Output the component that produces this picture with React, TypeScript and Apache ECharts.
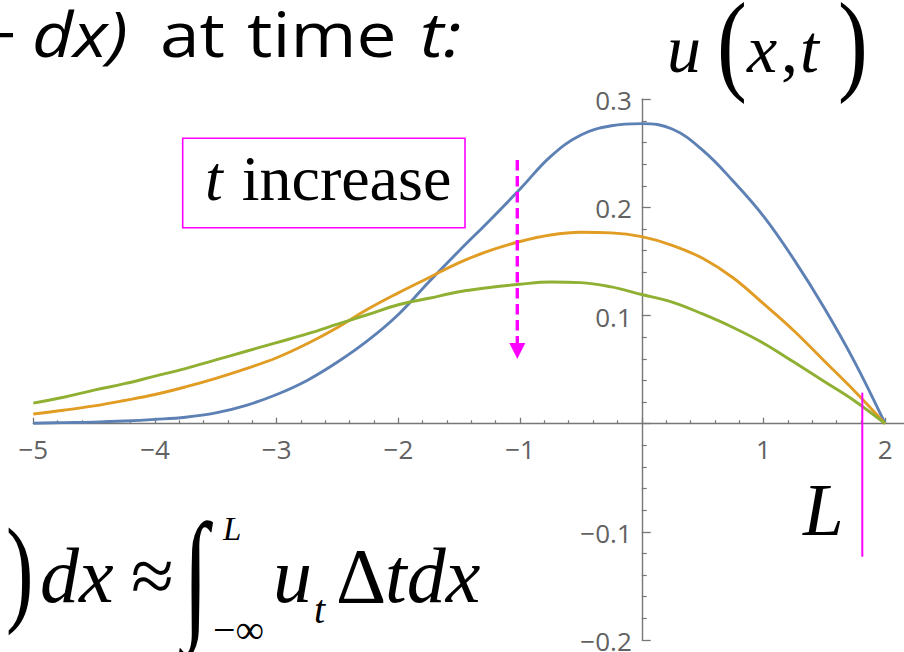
import { useEffect, useRef } from "react";
import * as echarts from "echarts";

// Sampled profiles u(x, t) at three successive times (earliest first)
const xs = [-5, -4.75, -4.5, -4.25, -4, -3.75, -3.5, -3.25, -3, -2.75, -2.5, -2.25, -2, -1.75, -1.5, -1.25, -1, -0.75, -0.5, -0.25, 0, 0.25, 0.5, 0.75, 1, 1.25, 1.5, 1.75, 2];
const uEarly = [0.0005, 0.001, 0.0015, 0.0025, 0.004, 0.006, 0.01, 0.017, 0.027, 0.04, 0.057, 0.077, 0.101, 0.131, 0.16, 0.188, 0.217, 0.247, 0.267, 0.2755, 0.2775, 0.2725, 0.253, 0.2245, 0.192, 0.152, 0.107, 0.057, 0];
const uMid = [0.009, 0.0125, 0.0165, 0.0215, 0.027, 0.034, 0.042, 0.051, 0.061, 0.074, 0.089, 0.106, 0.121, 0.135, 0.149, 0.16, 0.1685, 0.1745, 0.177, 0.1765, 0.173, 0.165, 0.153, 0.135, 0.111, 0.086, 0.058, 0.03, 0];
const uLate = [0.019, 0.0245, 0.031, 0.037, 0.044, 0.051, 0.059, 0.067, 0.075, 0.083, 0.092, 0.101, 0.11, 0.116, 0.122, 0.126, 0.129, 0.131, 0.1305, 0.1265, 0.1195, 0.1125, 0.1015, 0.089, 0.0745, 0.057, 0.039, 0.021, 0];

const xMajorTicks = [-5, -4, -3, -2, -1, 0, 1, 2];
const xTickLabels = [-5, -4, -3, -2, -1, 1, 2];
const yTickLabels = [-0.2, -0.1, 0.1, 0.2, 0.3];

const X_MIN = -5;
const X_MAX = 2.155;
const Y_MIN = -0.2;
const Y_MAX = 0.3;

const seriesColors = ["#5E81B5", "#E19C24", "#8FB032"];
const MAGENTA = "#FF00FF";
const AXIS_GRAY = "#777777";
const LABEL_GRAY = "#626262";

const SERIF = "'Liberation Serif', 'Times New Roman', serif";
const SANS = "'Open Sans', 'Noto Sans', sans-serif";
const TICK_FONT = 26;

const GRID = { left: 33.3, right: 0, top: 99.3, bottom: 12 };
const CHART_W = 904;
const CHART_H = 652;

// minor ticks every 0.2 between the integer ticks
const xMinorTicks: number[] = [];
for (let i = -25; i <= 10; i++) {
  if (i % 5 !== 0) xMinorTicks.push(i / 5);
}

const fmtMinus = (v: number) => {
  const r = Math.round(v * 1e6) / 1e6;
  const s = Number.isInteger(r) ? String(Math.abs(r)) : Math.abs(r).toFixed(1);
  return r < 0 ? "\u2212" + s : s;
};

// text placed by its left edge and alphabetic baseline
function label(
  text: string,
  left: number,
  baseline: number,
  size: number,
  opts: { family?: string; italic?: boolean; ratio?: number; scaleX?: number; scaleY?: number; fill?: string } = {}
) {
  const family = opts.family ?? SERIF;
  const ratio = opts.ratio ?? (family === SERIF ? 0.3375 : 0.388);
  return {
    type: "text",
    x: left,
    y: baseline - ratio * size * (opts.scaleY ?? 1),
    scaleX: opts.scaleX ?? 1,
    scaleY: opts.scaleY ?? 1,
    silent: true,
    style: {
      text,
      x: 0,
      y: 0,
      fontSize: size,
      fontFamily: family,
      fontStyle: opts.italic ? "italic" : "normal",
      fill: opts.fill ?? "#000",
      align: "left",
      verticalAlign: "middle",
      textAlign: "left",
      textVerticalAlign: "middle",
    },
  };
}

function tickText(text: string, x: number, y: number, align: "center" | "right") {
  return {
    type: "text",
    x,
    y,
    silent: true,
    style: {
      text,
      x: 0,
      y: 0,
      font: `normal normal 400 ${TICK_FONT}px ${SANS}`,
      fontSize: TICK_FONT,
      fontFamily: SANS,
      fontStyle: "normal",
      fill: LABEL_GRAY,
      align,
      verticalAlign: "middle",
      textAlign: align,
      textVerticalAlign: "middle",
    },
  };
}

export default function App() {
  const ref = useRef<HTMLDivElement>(null);

  useEffect(() => {
    if (!ref.current) return;
    const chart = echarts.init(ref.current, undefined, { renderer: "svg" });

    // the axes cross at the origin, inside the plotting area
    const gridW = CHART_W - GRID.left - GRID.right;
    const gridH = CHART_H - GRID.top - GRID.bottom;
    const yAxisShift = -((0 - X_MIN) / (X_MAX - X_MIN)) * gridW;
    const xAxisShift = -((0 - Y_MIN) / (Y_MAX - Y_MIN)) * gridH;

    const toPairs = (ys: number[]) => xs.map((x, i) => [x, ys[i]]);
    const lineSeries = [uEarly, uMid, uLate].map((ys, i) => ({
      type: "line",
      data: toPairs(ys),
      xAxisIndex: 0,
      yAxisIndex: 0,
      showSymbol: false,
      symbol: "none",
      smooth: 0.4,
      clip: false,
      lineStyle: { color: seriesColors[i], width: 2.9 },
      itemStyle: { color: seriesColors[i] },
      z: 3 + i,
    }));

    const option: any = {
      animation: false,
      backgroundColor: "#ffffff",
      grid: {
        ...GRID,
        containLabel: false,
        outerBoundsMode: "none",
      },
      xAxis: [
        {
          type: "value",
          min: X_MIN,
          max: X_MAX,
          position: "bottom",
          offset: xAxisShift,
          axisLine: { show: true, onZero: false, lineStyle: { color: AXIS_GRAY, width: 1.4 } },
          axisTick: {
            show: true,
            inside: true,
            length: 6,
            customValues: xMajorTicks,
            lineStyle: { color: AXIS_GRAY, width: 1.3 },
          },
          axisLabel: { show: false },
          splitLine: { show: false },
          minorTick: { show: false },
        },
        {
          type: "value",
          min: X_MIN,
          max: X_MAX,
          position: "bottom",
          offset: xAxisShift,
          axisLine: { show: false, onZero: false },
          axisTick: {
            show: true,
            inside: true,
            length: 3.5,
            customValues: xMinorTicks,
            lineStyle: { color: AXIS_GRAY, width: 1.2 },
          },
          axisLabel: { show: false },
          splitLine: { show: false },
        },
      ],
      yAxis: {
        type: "value",
        min: Y_MIN,
        max: Y_MAX,
        interval: 0.1,
        position: "left",
        offset: yAxisShift,
        axisLine: { show: true, onZero: false, lineStyle: { color: AXIS_GRAY, width: 1.4 } },
        axisTick: { show: true, inside: true, length: 9, lineStyle: { color: AXIS_GRAY, width: 1.3 } },
        minorTick: { show: true, splitNumber: 5, length: 5, lineStyle: { color: AXIS_GRAY, width: 1.2 } },
        axisLabel: { show: false },
        splitLine: { show: false },
        minorSplitLine: { show: false },
      },
      series: lineSeries,
    };

    chart.setOption(option);

    // tick labels positioned through the axes' own scales
    const toPx = (x: number, y: number) => chart.convertToPixel({ gridIndex: 0 }, [x, y]) as number[];
    const origin = toPx(0, 0);
    const tickLabels = [
      ...xTickLabels.map((v) => tickText(fmtMinus(v), toPx(v, 0)[0], origin[1] + 25, "center")),
      ...yTickLabels.map((v) => tickText(fmtMinus(v), origin[0] - 10, toPx(0, v)[1] + 1, "right")),
    ];

    const annotations: any[] = [
      // heading fragment
      label("+", -24, 57, 62, { family: SANS, scaleX: 1.15 }),
      label("dx)", 32, 57, 62, { family: SANS, italic: true, scaleX: 1.15 }),
      label("at", 160, 57, 62, { family: SANS, scaleX: 1.15 }),
      label("time", 247, 57, 62, { family: SANS, scaleX: 1.15 }),
      label("t:", 420, 57, 62, { family: SANS, italic: true, scaleX: 1.15 }),

      // u(x,t)
      label("u", 667, 72, 68, { italic: true }),
      label("(", 717, 80, 112, { scaleX: 0.8 }),
      label("x", 747, 72, 68, { italic: true }),
      label(",", 781, 72, 68),
      label("t", 800, 72, 68, { italic: true }),
      label(")", 838, 80, 112, { scaleX: 0.8 }),

      // "t increase" box
      {
        type: "rect",
        silent: true,
        shape: { x: 182.7, y: 138.3, width: 282.3, height: 89.4 },
        style: { fill: "#ffffff", stroke: MAGENTA, lineWidth: 1.6 },
        z: 10,
      },
      { ...label("t", 205, 200, 64, { italic: true }), z: 11 },
      { ...label("increase", 241.7, 200, 64), z: 11 },

      // dashed arrow
      {
        type: "line",
        silent: true,
        shape: { x1: 517.3, y1: 160, x2: 517.3, y2: 345 },
        style: { stroke: MAGENTA, lineWidth: 3.4, lineDash: [10.5, 5.5] },
        z: 10,
      },
      {
        type: "polygon",
        silent: true,
        shape: { points: [[509.3, 343], [525.3, 343], [517.3, 359]] },
        style: { fill: MAGENTA },
        z: 10,
      },

      // boundary marker L
      {
        type: "line",
        silent: true,
        shape: { x1: 862.3, y1: 392.7, x2: 862.3, y2: 556.7 },
        style: { stroke: MAGENTA, lineWidth: 2 },
        z: 10,
      },
      label("L", 803, 535, 73, { italic: true }),

      // bottom formula
      label(")", 6, 610, 118, { scaleX: 0.7 }),
      label("dx", 40, 602, 78, { italic: true }),
      label("\u2248", 131, 602, 78),
      label("\u222B", 183, 622, 92, { scaleY: 1.55 }),
      label("L", 223, 540, 33, { italic: true }),
      label("\u2212\u221E", 213, 643, 40),
      label("u", 273, 602, 78, { italic: true }),
      label("t", 314, 623, 40, { italic: true }),
      label("\u0394", 336, 602, 78),
      label("tdx", 385, 602, 78, { italic: true }),
    ];

    chart.setOption({ graphic: [...annotations, ...tickLabels] });
    return () => chart.dispose();
  }, []);

  return (
    <div
      ref={ref}
      style={{ position: "fixed", left: 0, top: 0, width: CHART_W, height: CHART_H, background: "#fff" }}
    />
  );
}
